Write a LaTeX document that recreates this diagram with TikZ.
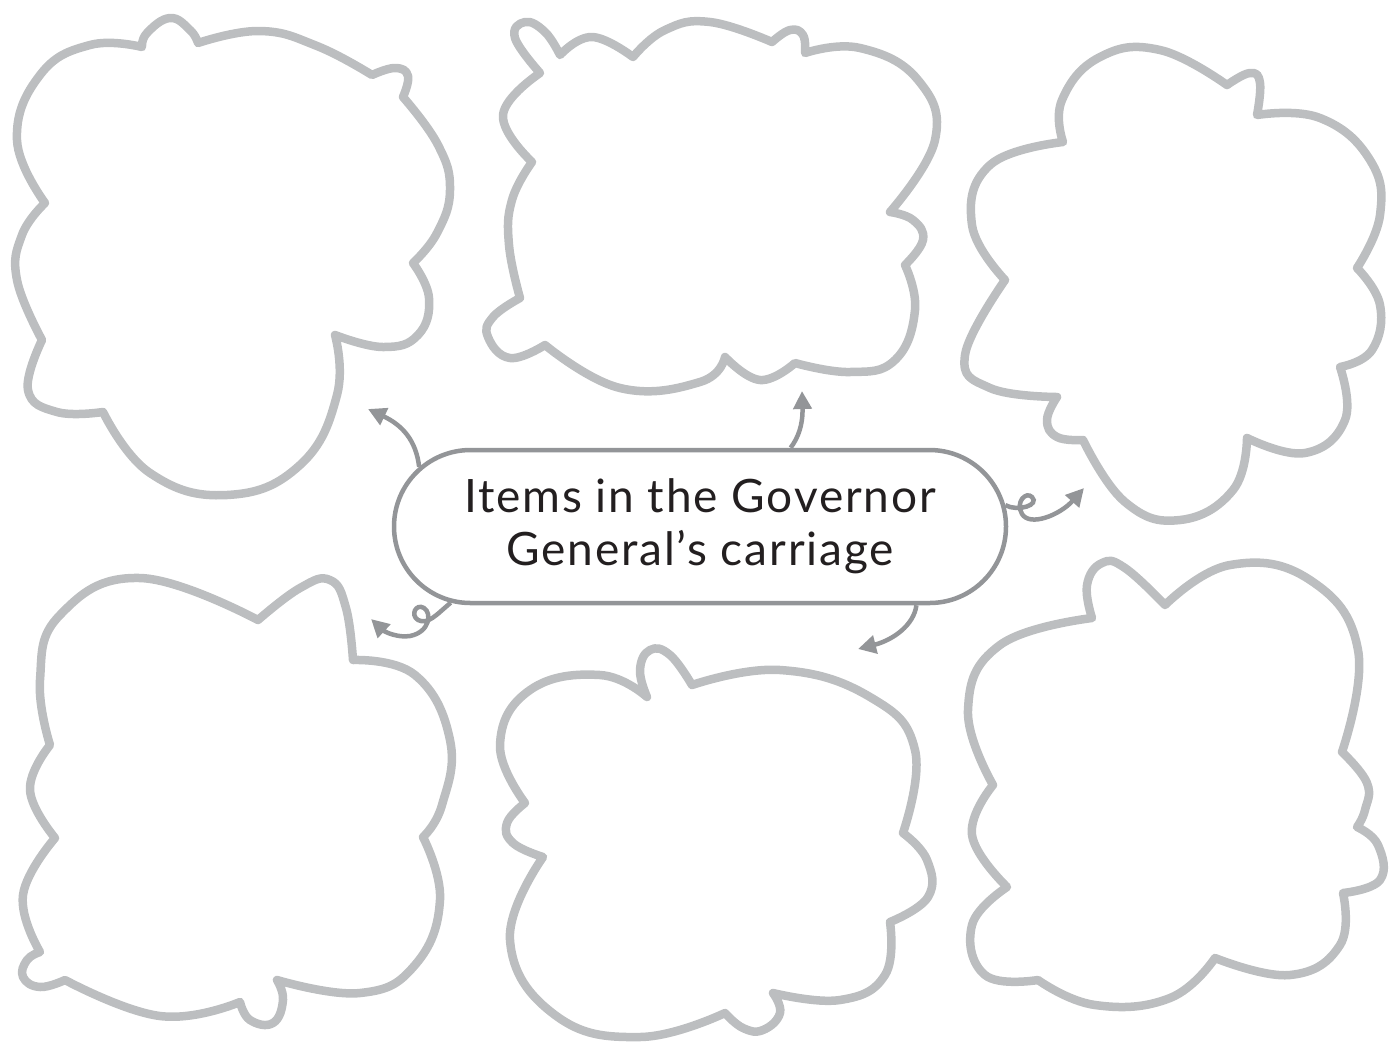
\documentclass[tikz,border=0pt]{standalone}
\usepackage{fontspec}
\setmainfont[LetterSpace=4]{Lato}
\usetikzlibrary{arrows.meta,shapes.misc}
\pgfdeclarelayer{bg}
\pgfsetlayers{bg,main}
\definecolor{cloudgray}{HTML}{BCBEC0}
\definecolor{linkgray}{HTML}{939598}
\definecolor{ink}{HTML}{231F20}
\tikzset{
  cloud/.style={draw=cloudgray, line width=8.5pt, line join=round},
  lobe/.style={smooth, tension=0.75},
  link/.style={draw=linkgray, line width=4.5pt, -{Triangle[length=18pt,width=18pt]}},
  hub/.style={rounded rectangle, draw=linkgray, line width=4.5pt, fill=white,
    minimum width=612pt, minimum height=153pt, inner sep=0pt, align=center,
    text=ink, font=\fontsize{46}{53}\selectfont}
}
\begin{document}
\begin{tikzpicture}[x=1pt,y=-1pt]
\useasboundingbox (0,0) rectangle (1399,1045);
% cloud 1
\draw[cloud] plot[lobe] coordinates {(142,47) (147,33) (170,18) (190,30) (198,43)}
 -- plot[lobe] coordinates {(198,43) (260,31) (317,46) (372,75)}
 -- plot[lobe] coordinates {(372,75) (395,68) (408,76) (403,97)}
 -- plot[lobe] coordinates {(403,97) (438,145) (450,190) (437,233) (413,263)}
 -- plot[lobe] coordinates {(413,263) (429,298) (418,335) (383,347) (335,335)}
 -- plot[lobe] coordinates {(335,335) (337,395) (300,465) (227,495) (150,473) (103,412)}
 -- plot[lobe] coordinates {(103,412) (57,412) (28,390) (42,340)}
 -- plot[lobe] coordinates {(42,340) (17,280) (22,235) (45,203)}
 -- plot[lobe] coordinates {(45,203) (17,140) (40,75) (90,45) (142,47)} -- cycle;
% cloud 2
\draw[cloud] plot[lobe] coordinates {(540,73) (515,38) (525,22) (545,32) (560,55)}
 -- plot[lobe] coordinates {(560,55) (592,37) (633,57)}
 -- plot[lobe] coordinates {(633,57) (665,30) (710,22) (772,42)}
 -- plot[lobe] coordinates {(772,42) (790,30) (803,35) (805,53)}
 -- plot[lobe] coordinates {(805,53) (860,48) (918,80) (935,140) (890,212)}
 -- plot[lobe] coordinates {(890,212) (913,220) (923,240) (905,265)}
 -- plot[lobe] coordinates {(905,265) (915,310) (895,360) (850,372) (795,363)}
 -- plot[lobe] coordinates {(795,363) (760,380) (725,357)}
 -- plot[lobe] coordinates {(725,357) (700,382) (620,388) (545,345)}
 -- plot[lobe] coordinates {(545,345) (510,358) (488,337) (493,317) (520,298)}
 -- plot[lobe] coordinates {(520,298) (509,245) (512,200) (532,162)}
 -- plot[lobe] coordinates {(532,162) (503,115) (540,73)} -- cycle;
% cloud 3
\draw[cloud] plot[lobe] coordinates {(1063,142) (1062,100) (1100,57) (1160,50) (1227,85)}
 -- plot[lobe] coordinates {(1227,85) (1250,73) (1260,83) (1257,115)}
 -- plot[lobe] coordinates {(1257,115) (1320,118) (1370,160) (1380,215) (1357,268)}
 -- plot[lobe] coordinates {(1357,268) (1380,305) (1372,350) (1340,367)}
 -- plot[lobe] coordinates {(1340,367) (1345,420) (1305,453) (1247,438)}
 -- plot[lobe] coordinates {(1247,438) (1233,490) (1180,520) (1125,502) (1083,440)}
 -- plot[lobe] coordinates {(1083,440) (1057,437) (1047,420) (1057,397)}
 -- plot[lobe] coordinates {(1057,397) (990,388) (965,355) (1005,280)}
 -- plot[lobe] coordinates {(1005,280) (972,225) (990,165) (1063,142)} -- cycle;
% cloud 4
\draw[cloud] plot[lobe] coordinates {(258,620) (300,588) (330,580) (346,608) (353,660)}
 -- plot[lobe] coordinates {(353,660) (415,675) (450,740) (442,805) (423,837)}
 -- plot[lobe] coordinates {(423,837) (440,900) (415,965) (360,993) (277,980)}
 -- plot[lobe] coordinates {(277,980) (283,1000) (273,1023) (250,1020) (240,1002)}
 -- plot[lobe] coordinates {(240,1002) (160,1016) (65,980)}
 -- plot[lobe] coordinates {(65,980) (40,987) (23,977) (27,960) (40,952)}
 -- plot[lobe] coordinates {(40,952) (23,895) (55,838)}
 -- plot[lobe] coordinates {(55,838) (30,790) (50,745)}
 -- plot[lobe] coordinates {(50,745) (40,680) (60,615) (140,578) (258,620)} -- cycle;
% cloud 5
\draw[cloud] plot[lobe] coordinates {(647,697) (640,670) (650,650) (670,655) (692,685)}
 -- plot[lobe] coordinates {(692,685) (780,670) (870,697) (915,750) (903,833)}
 -- plot[lobe] coordinates {(903,833) (927,860) (928,897) (890,922)}
 -- plot[lobe] coordinates {(890,922) (885,975) (840,1000) (773,993)}
 -- plot[lobe] coordinates {(773,993) (780,1013) (763,1030) (743,1028) (725,1013)}
 -- plot[lobe] coordinates {(725,1013) (640,1037) (555,1015) (510,940) (543,857)}
 -- plot[lobe] coordinates {(543,857) (513,843) (507,823) (525,803)}
 -- plot[lobe] coordinates {(525,803) (500,745) (530,690) (600,675) (647,697)} -- cycle;
% cloud 6
\draw[cloud] plot[lobe] coordinates {(1092,618) (1087,585) (1102,563) (1125,568) (1165,605)}
 -- plot[lobe] coordinates {(1165,605) (1230,565) (1310,580) (1358,650) (1342,752)}
 -- plot[lobe] coordinates {(1342,752) (1367,783) (1365,810) (1357,827)}
 -- plot[lobe] coordinates {(1357,827) (1378,845) (1380,880) (1343,893)}
 -- plot[lobe] coordinates {(1343,893) (1340,945) (1290,975) (1215,958)}
 -- plot[lobe] coordinates {(1215,958) (1170,998) (1095,1005) (1038,980)}
 -- plot[lobe] coordinates {(1038,980) (985,975) (972,925) (1007,887)}
 -- plot[lobe] coordinates {(1007,887) (972,835) (993,785)}
 -- plot[lobe] coordinates {(993,785) (968,710) (1000,645) (1092,618)} -- cycle;
% hub
\node[hub] (c) at (700,526.5) {\makebox[440pt]{Items in the Governor}\\\makebox[440pt]{General’s carriage}};
\coordinate (t1) at (368,409);
\coordinate (t2) at (802,391);
\coordinate (t3) at (1084,488);
\coordinate (t4) at (858,649);
\coordinate (t5) at (371,619);
\begin{pgfonlayer}{bg}
\draw[link] (c.168) .. controls (416,440) and (402,425) .. (t1);
\draw[link] (c.41) .. controls (798,438) and (803,425) .. (t2);
\draw[link] (c.4) .. controls (1018,512) and (1040,505) .. (1032,497)
  .. controls (1026,491) and (1015,502) .. (1022,514)
  .. controls (1030,527) and (1060,515) .. (t3);
\draw[link] (c.340) .. controls (914,625) and (893,640) .. (t4);
\draw[link] (c.197) .. controls (436,615) and (428,625) .. (418,620)
  .. controls (410,615) and (416,603) .. (424,608)
  .. controls (432,613) and (430,632) .. (410,636)
  .. controls (398,638) and (385,632) .. (t5);
\end{pgfonlayer}
\end{tikzpicture}
\end{document}
